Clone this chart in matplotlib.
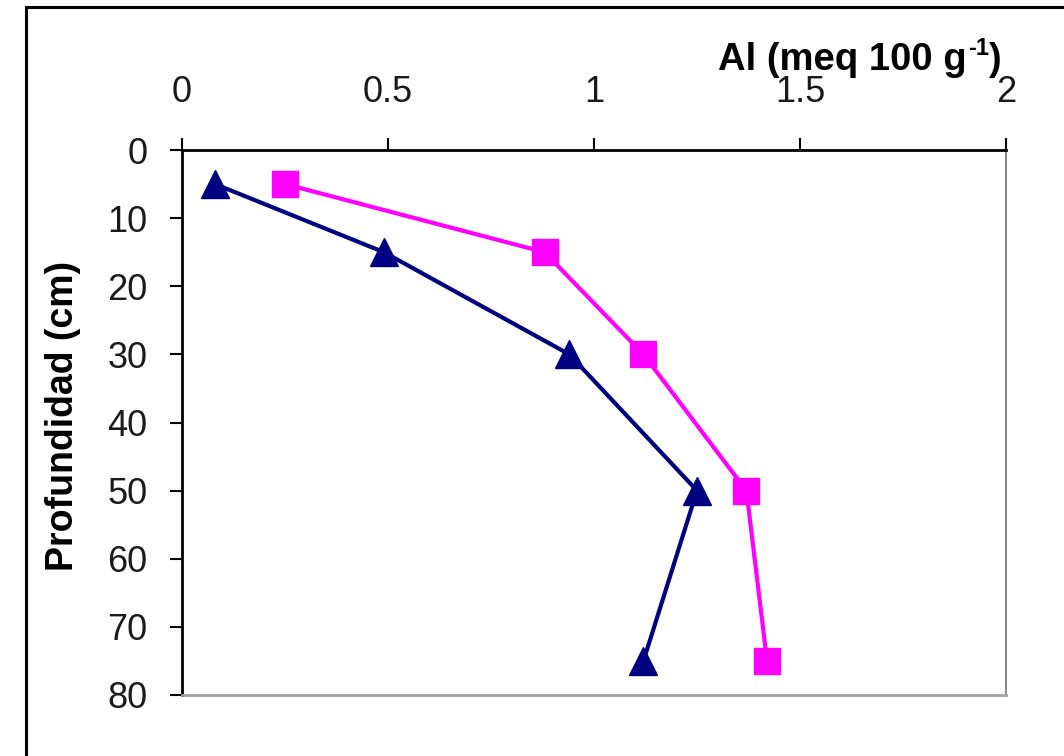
import matplotlib
matplotlib.use("Agg")
import matplotlib.pyplot as plt
from matplotlib.patches import Rectangle

depth = [5, 15, 30, 50, 75]
al_triangle = [0.08, 0.49, 0.94, 1.25, 1.12]
al_square = [0.25, 0.88, 1.12, 1.37, 1.42]
x_ticks = [0, 0.5, 1, 1.5, 2]
x_tick_labels = ["0", "0.5", "1", "1.5", "2"]
y_ticks = [0, 10, 20, 30, 40, 50, 60, 70, 80]

plt.rcParams['font.family'] = ['Liberation Sans', 'DejaVu Sans']

fig = plt.figure(figsize=(10.64, 7.56), dpi=100)
fig.patch.set_facecolor('white')
ax = fig.add_axes([182/1064, 1-695/756, (1006-182)/1064, (695-150)/756])

# outer frame
fig.patches.append(Rectangle((26/1064, -0.1), 1.2, 1.1 - 7/756,
                             transform=fig.transFigure, fill=False,
                             edgecolor='black', linewidth=2.2, zorder=0))

ax.plot(al_triangle, depth, color='#000080', linewidth=3, marker='^',
        markersize=20, markerfacecolor='#000080', markeredgecolor='#000080',
        clip_on=False, zorder=3)
ax.plot(al_square, depth, color='#FF00FF', linewidth=3, marker='s',
        markersize=19, markerfacecolor='#FF00FF', markeredgecolor='#FF00FF',
        clip_on=False, zorder=3)

ax.set_xlim(0, 2)
ax.set_ylim(80, 0)
ax.xaxis.tick_top()
ax.set_xticks(x_ticks)
ax.set_xticklabels(x_tick_labels)
ax.set_yticks(y_ticks)

ax.tick_params(axis='x', direction='out', length=9, width=1.5, pad=20,
               labelsize=26, colors='black', top=True, bottom=False)
ax.tick_params(axis='y', direction='out', length=9, width=1.5, pad=16,
               labelsize=26, colors='black')
for lbl in ax.get_xticklabels() + ax.get_yticklabels():
    lbl.set_color('#1a1a1a')

ax.spines['left'].set_color('black')
ax.spines['left'].set_linewidth(2)
ax.spines['top'].set_color('black')
ax.spines['top'].set_linewidth(2)
ax.spines['right'].set_color('#8c8c8c')
ax.spines['right'].set_linewidth(1.5)
ax.spines['bottom'].set_color('#a0a0a0')
ax.spines['bottom'].set_linewidth(2)

# x-axis title with superscript built from plain text pieces
t1 = ax.text((718-182)/824, (695-70)/545, 'Al (meq 100 g',
             transform=ax.transAxes, ha='left', va='baseline',
             fontsize=27.5, fontweight='bold')
t2 = ax.annotate('-1', xy=(1, 0), xycoords=t1, xytext=(1, 13),
                 textcoords='offset points', ha='left', va='bottom',
                 fontsize=17, fontweight='bold')
t3 = ax.annotate(')', xy=(1, 0), xycoords=t2, xytext=(0, -13),
                 textcoords='offset points', ha='left', va='bottom',
                 fontsize=27.5, fontweight='bold')

fig.text(63/1064, 1-416/756, 'Profundidad (cm)', rotation=90,
         ha='center', va='center', fontsize=27, fontweight='bold')

fig.savefig('out.png', dpi=100, facecolor='white')
